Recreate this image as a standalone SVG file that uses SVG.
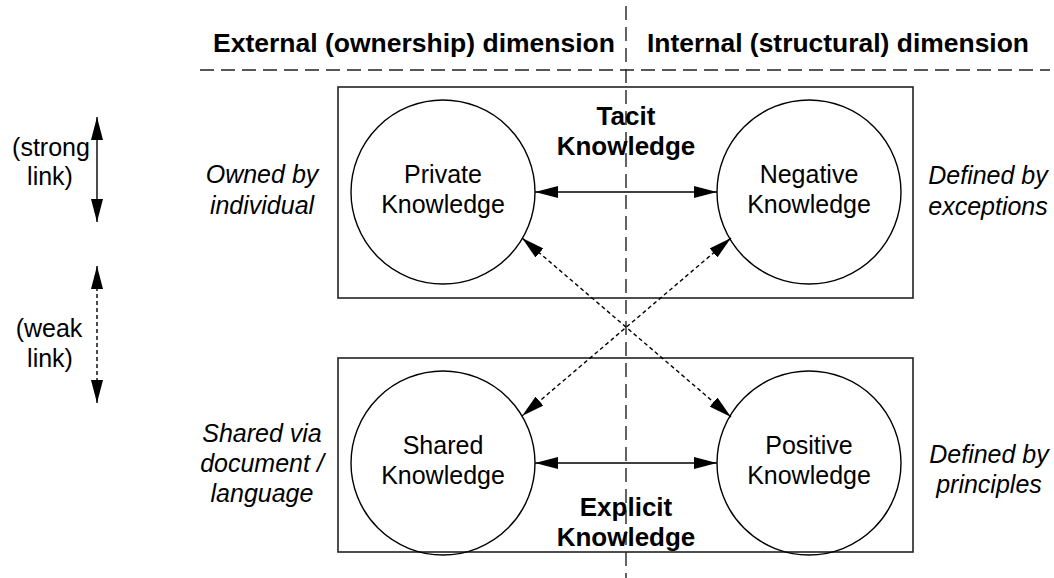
<svg xmlns="http://www.w3.org/2000/svg" width="1054" height="578" viewBox="0 0 1054 578">
<defs>
<style>
.t{font-family:"Liberation Sans",Arial,sans-serif;font-size:25px;fill:#000;text-anchor:middle}
.i{font-style:italic}
.b{font-weight:bold;font-size:26px}
.box{fill:none;stroke:#222;stroke-width:1.6}
.circ{fill:none;stroke:#000;stroke-width:1.4}
.solid{fill:none;stroke:#000;stroke-width:1.4}
.weak{fill:none;stroke:#000;stroke-width:1.4;stroke-dasharray:4 3}
.guide{fill:none;stroke:#222;stroke-width:1.4;stroke-dasharray:14 7}
</style>
<marker id="ah" viewBox="0 0 23 12" refX="23" refY="6" markerWidth="23" markerHeight="12" markerUnits="userSpaceOnUse" orient="auto-start-reverse">
<path d="M0,0 L23,6 L0,12 Z" fill="#000"/>
</marker>
</defs>
<rect width="1054" height="578" fill="#fff"/>

<g id="guides">
<line class="guide" x1="200" y1="70" x2="1050" y2="70"/>
<line class="guide" x1="626" y1="6" x2="626" y2="578"/>
</g>

<g id="headers">
<text class="t b" x="414" y="52" font-size="26.5" textLength="402" lengthAdjust="spacingAndGlyphs">External (ownership) dimension</text>
<text class="t b" x="838" y="52" font-size="26.5" textLength="382" lengthAdjust="spacingAndGlyphs">Internal (structural) dimension</text>
</g>

<g id="tacit">
<rect class="box" x="338" y="87" width="575" height="211"/>
<text class="t b" x="626" y="125">Tacit</text>
<text class="t b" x="626" y="155">Knowledge</text>
</g>
<g id="explicit">
<rect class="box" x="338" y="358" width="575" height="194"/>
<text class="t b" x="626" y="516">Explicit</text>
<text class="t b" x="626" y="546">Knowledge</text>
</g>

<g id="private">
<circle class="circ" cx="443" cy="192" r="92"/>
<text class="t" x="443" y="183">Private</text>
<text class="t" x="443" y="213">Knowledge</text>
</g>
<g id="negative">
<circle class="circ" cx="809" cy="192" r="92"/>
<text class="t" x="809" y="183">Negative</text>
<text class="t" x="809" y="213">Knowledge</text>
</g>
<g id="shared">
<circle class="circ" cx="443" cy="463" r="92"/>
<text class="t" x="443" y="454">Shared</text>
<text class="t" x="443" y="484">Knowledge</text>
</g>
<g id="positive">
<circle class="circ" cx="809" cy="463" r="92"/>
<text class="t" x="809" y="454">Positive</text>
<text class="t" x="809" y="484">Knowledge</text>
</g>

<g id="side-labels">
<text class="t i" x="262" y="183">Owned by</text>
<text class="t i" x="262" y="214">individual</text>
<text class="t i" x="262" y="442">Shared via</text>
<text class="t i" x="262" y="472">document /</text>
<text class="t i" x="262" y="502">language</text>
<text class="t i" x="988" y="184">Defined by</text>
<text class="t i" x="988" y="215">exceptions</text>
<text class="t i" x="989" y="463">Defined by</text>
<text class="t i" x="989" y="493">principles</text>
</g>

<g id="legend">
<text class="t" x="51" y="156">(strong</text>
<text class="t" x="50" y="185">link)</text>
<text class="t" x="49" y="337">(weak</text>
<text class="t" x="50" y="367">link)</text>
</g>

<g id="connectors">
<line class="solid" x1="535" y1="192" x2="717" y2="192" marker-start="url(#ah)" marker-end="url(#ah)"/>
<line class="solid" x1="535" y1="463" x2="717" y2="463" marker-start="url(#ah)" marker-end="url(#ah)"/>
<line class="weak" x1="522" y1="238" x2="731" y2="417" marker-start="url(#ah)" marker-end="url(#ah)"/>
<line class="weak" x1="731" y1="238" x2="522" y2="416" marker-start="url(#ah)" marker-end="url(#ah)"/>
<line class="solid" x1="97" y1="117" x2="97" y2="222" marker-start="url(#ah)" marker-end="url(#ah)"/>
<line class="weak" x1="97" y1="266" x2="97" y2="403" marker-start="url(#ah)" marker-end="url(#ah)"/>
</g>
</svg>
